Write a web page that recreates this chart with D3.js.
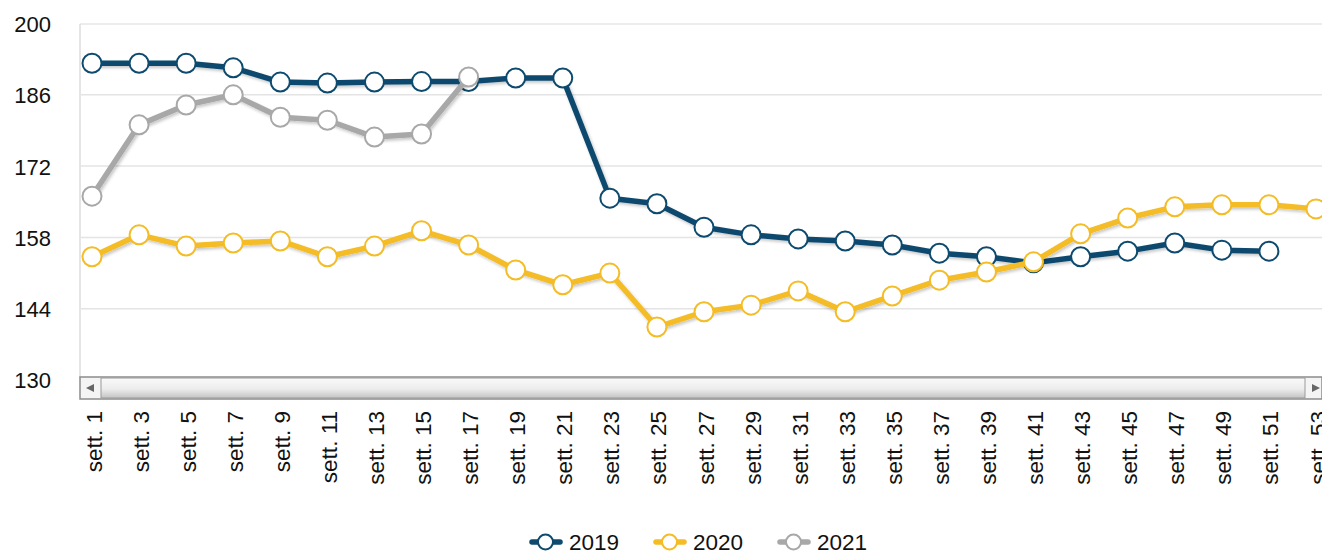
<!DOCTYPE html>
<html>
<head>
<meta charset="utf-8">
<script src="https://cdn.jsdelivr.net/npm/d3@7"></script>
<style>
  body { margin: 0; background: #fff; font-family: 'Liberation Sans', Arial, sans-serif; }
  svg { display: block; }
</style>
</head>
<body>
<svg id="chart" width="1322" height="553"></svg>
<script>
const weeks = ['sett. 1', 'sett. 3', 'sett. 5', 'sett. 7', 'sett. 9', 'sett. 11', 'sett. 13', 'sett. 15', 'sett. 17',
  'sett. 19', 'sett. 21', 'sett. 23', 'sett. 25', 'sett. 27', 'sett. 29', 'sett. 31', 'sett. 33', 'sett. 35',
  'sett. 37', 'sett. 39', 'sett. 41', 'sett. 43', 'sett. 45', 'sett. 47', 'sett. 49', 'sett. 51', 'sett. 53']
const values2019 = [192.2, 192.2, 192.2, 191.3, 188.5, 188.3, 188.5, 188.6, 188.6, 189.3, 189.3, 165.7, 164.6,
  160.0, 158.5, 157.7, 157.3, 156.5, 154.9, 154.2, 153.0, 154.2, 155.3, 156.9, 155.5, 155.3, null]
const values2020 = [154.2, 158.5, 156.3, 156.9, 157.3, 154.2, 156.3, 159.3, 156.5, 151.6, 148.7, 151.0, 140.4,
  143.4, 144.7, 147.5, 143.4, 146.5, 149.6, 151.2, 153.2, 158.7, 161.8, 164.0, 164.4, 164.4, 163.6]
const values2021 = [166.1, 180.1, 184.0, 186.0, 181.6, 181.0, 177.7, 178.3, 189.5]
const yTicks = [130, 144, 158, 172, 186, 200]
const seriesNames = ['2019', '2020', '2021']
const seriesColors = ['#0d4a6e', '#f4bc25', '#a8a8a8']

const series = [values2019, values2020, values2021].map((vals, i) => ({
  name: seriesNames[i],
  color: seriesColors[i],
  points: vals.map((v, j) => ({ week: weeks[j], value: v })).filter(d => d.value != null)
}))

const svg = d3.select('#chart')
const plot = { left: 80, right: 1322, top: 24, bottom: 378 }

const x = d3.scalePoint().domain(weeks).range([92, 1316])
const y = d3.scaleLinear().domain([130, 200]).range([380, 23.5])

const defs = svg.append('defs')
const shadow = defs.append('filter').attr('id', 'shadow')
  .attr('x', '-5%').attr('y', '-20%').attr('width', '110%').attr('height', '140%')
shadow.append('feDropShadow')
  .attr('dx', 1.5).attr('dy', 2).attr('stdDeviation', 1.5)
  .attr('flood-color', '#000').attr('flood-opacity', 0.22)

const thumb = defs.append('linearGradient').attr('id', 'thumb').attr('x1', 0).attr('y1', 0).attr('x2', 0).attr('y2', 1)
thumb.append('stop').attr('offset', '0%').attr('stop-color', '#fafafa')
thumb.append('stop').attr('offset', '55%').attr('stop-color', '#ececec')
thumb.append('stop').attr('offset', '100%').attr('stop-color', '#c4c4c4')

// plot frame
svg.append('line')
  .attr('x1', plot.left).attr('x2', plot.right).attr('y1', plot.top).attr('y2', plot.top)
  .attr('stroke', '#ececec').attr('stroke-width', 2)
svg.append('line')
  .attr('x1', plot.left).attr('x2', plot.left).attr('y1', plot.top).attr('y2', plot.bottom)
  .attr('stroke', '#dcdcdc').attr('stroke-width', 1.5)

// grid
svg.append('g')
  .selectAll('line')
  .data(yTicks.filter(t => t > 130 && t < 200))
  .join('line')
  .attr('x1', plot.left + 1).attr('x2', plot.right)
  .attr('y1', d => y(d)).attr('y2', d => y(d))
  .attr('stroke', '#e4e4e4').attr('stroke-width', 1.5)

// y axis labels
const yAxis = svg.append('g')
  .attr('transform', 'translate(51,0)')
  .call(d3.axisLeft(y).tickValues(yTicks).tickSize(0).tickPadding(0))
yAxis.select('.domain').remove()
yAxis.selectAll('text')
  .attr('font-family', "'Liberation Sans', Arial, sans-serif")
  .attr('font-size', 22).attr('fill', '#111')
  .attr('dy', '0.36em')

// lines and markers
const line = d3.line()
  .x(d => x(d.week))
  .y(d => y(d.value))

const seriesG = svg.append('g')
  .selectAll('g')
  .data(series)
  .join('g')

seriesG.append('path')
  .attr('d', d => line(d.points))
  .attr('fill', 'none')
  .attr('stroke', d => d.color)
  .attr('stroke-width', 5.5)
  .attr('stroke-linejoin', 'round')
  .attr('filter', 'url(#shadow)')

seriesG.each(function (s) {
  d3.select(this).selectAll('circle')
    .data(s.points)
    .join('circle')
    .attr('cx', d => x(d.week))
    .attr('cy', d => y(d.value))
    .attr('r', 9.5)
    .attr('fill', '#fff')
    .attr('stroke', s.color)
    .attr('stroke-width', 2)
})

// scrollbar
const sb = svg.append('g')
sb.append('rect')
  .attr('x', plot.left).attr('y', 377).attr('width', plot.right - plot.left).attr('height', 22)
  .attr('fill', '#f4f4f4').attr('stroke', '#8c8c8c').attr('stroke-width', 1.5)
sb.append('rect')
  .attr('x', 101).attr('y', 378).attr('width', 1305 - 101).attr('height', 20)
  .attr('fill', 'url(#thumb)').attr('stroke', '#9a9a9a').attr('stroke-width', 1)
sb.append('path')
  .attr('d', 'M86,388 L94,384 L94,392 Z').attr('fill', '#666')
sb.append('path')
  .attr('d', 'M1312,384 L1320,388 L1312,392 Z').attr('fill', '#666')

// x labels
svg.append('g')
  .selectAll('text')
  .data(weeks)
  .join('text')
  .attr('transform', d => `translate(${x(d) + 9.5},411) rotate(-90)`)
  .attr('text-anchor', 'end')
  .attr('font-size', 22.5)
  .attr('fill', '#111')
  .text(d => d)

// legend
const legendX = [530, 654, 778]
const legend = svg.append('g')
  .selectAll('g')
  .data(series)
  .join('g')
  .attr('transform', (d, i) => `translate(${legendX[i]},542)`)
legend.append('line')
  .attr('x1', 2).attr('x2', 30).attr('y1', 0).attr('y2', 0)
  .attr('stroke', d => d.color).attr('stroke-width', 5.5).attr('stroke-linecap', 'round')
legend.append('circle')
  .attr('cx', 15.5).attr('cy', 0).attr('r', 7.5)
  .attr('fill', '#fff').attr('stroke', d => d.color).attr('stroke-width', 2)
legend.append('text')
  .attr('x', 39).attr('y', 0).attr('dy', '0.36em')
  .attr('font-size', 22.5).attr('fill', '#111')
  .text(d => d.name)
</script>
</body>
</html>
